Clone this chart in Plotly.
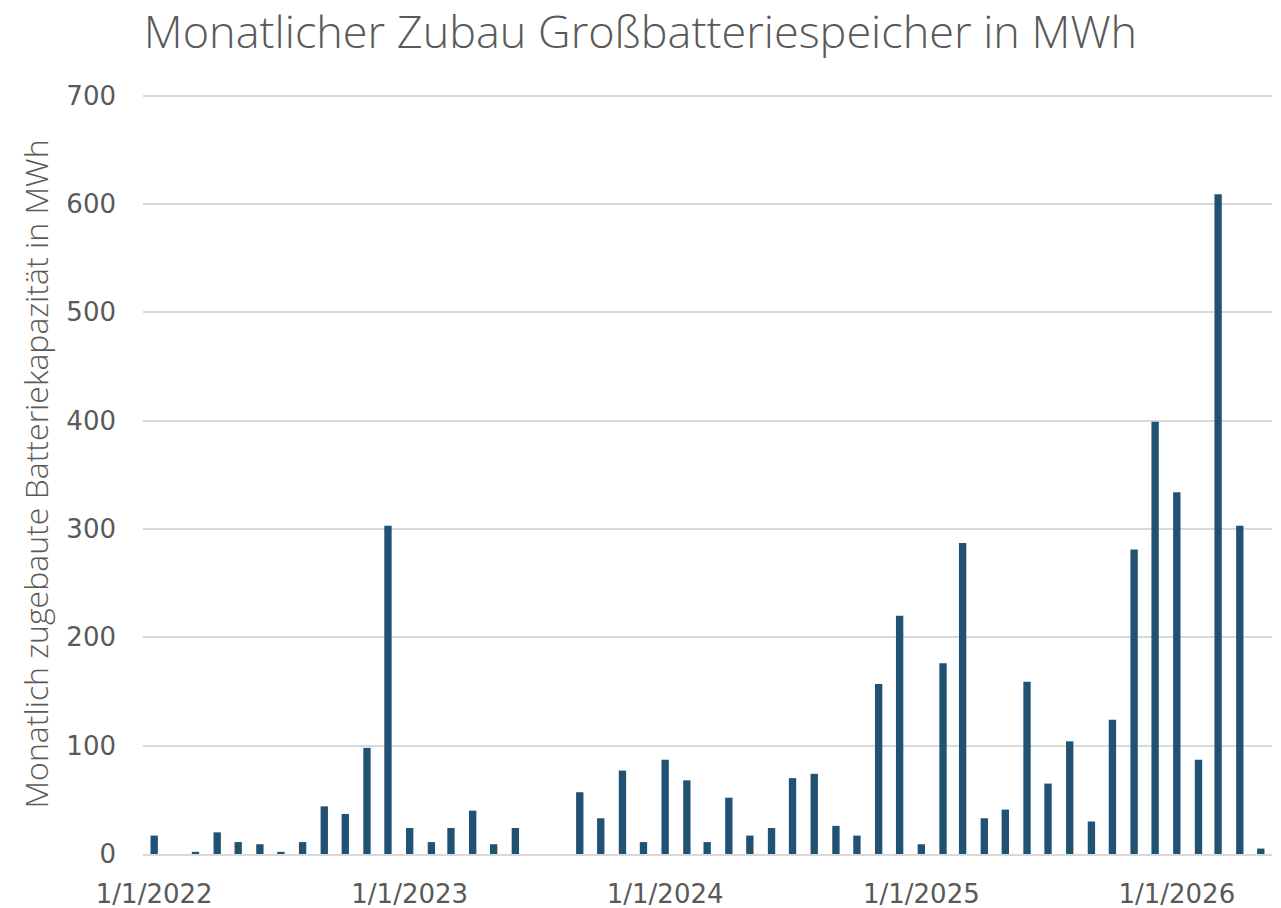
import plotly.graph_objects as go

months = [
    "2022-01-01", "2022-02-01", "2022-03-01", "2022-04-01", "2022-05-01", "2022-06-01",
    "2022-07-01", "2022-08-01", "2022-09-01", "2022-10-01", "2022-11-01", "2022-12-01",
    "2023-01-01", "2023-02-01", "2023-03-01", "2023-04-01", "2023-05-01", "2023-06-01",
    "2023-07-01", "2023-08-01", "2023-09-01", "2023-10-01", "2023-11-01", "2023-12-01",
    "2024-01-01", "2024-02-01", "2024-03-01", "2024-04-01", "2024-05-01", "2024-06-01",
    "2024-07-01", "2024-08-01", "2024-09-01", "2024-10-01", "2024-11-01", "2024-12-01",
    "2025-01-01", "2025-02-01", "2025-03-01", "2025-04-01", "2025-05-01", "2025-06-01",
    "2025-07-01", "2025-08-01", "2025-09-01", "2025-10-01", "2025-11-01", "2025-12-01",
    "2026-01-01", "2026-02-01", "2026-03-01", "2026-04-01", "2026-05-01",
]
zubau_mwh = [
    17, 0, 2, 20, 11, 9, 2, 11, 44, 37, 98, 303,
    24, 11, 24, 40, 9, 24, 0, 0, 57, 33, 77, 11,
    87, 68, 11, 52, 17, 24, 70, 74, 26, 17, 157, 220,
    9, 176, 287, 33, 41, 159, 65, 104, 30, 124, 281, 399,
    334, 87, 609, 303, 5,
]
tick_dates = ["2022-01-01", "2023-01-01", "2024-01-01", "2025-01-01", "2026-01-01"]
tick_labels = ["1/1/2022", "1/1/2023", "1/1/2024", "1/1/2025", "1/1/2026"]

title_text = "Monatlicher Zubau Großbatteriespeicher in MWh"
y_title = "Monatlich zugebaute Batteriekapazität in MWh"

DAY_MS = 86400000
TITLE_FONT = "Open Sans"
TICK_FONT = "DejaVu Sans"
GREY = "#595959"

fig = go.Figure(
    go.Bar(
        x=months,
        y=zubau_mwh,
        width=10.5 * DAY_MS,
        marker=dict(color="#215273", line=dict(width=0)),
    )
)

fig.update_layout(
    width=1281,
    height=908,
    paper_bgcolor="white",
    plot_bgcolor="white",
    margin=dict(l=143, r=9, t=94, b=54, autoexpand=False),
    showlegend=False,
    title=dict(
        text=title_text,
        x=0.5,
        xanchor="center",
        y=0.964,
        yanchor="middle",
        font=dict(family=TITLE_FONT, size=45, color=GREY, weight=300),
    ),
    font=dict(family=TITLE_FONT, color=GREY),
)

fig.update_xaxes(
    type="date",
    range=["2021-12-16", "2026-05-17"],
    tickvals=tick_dates,
    ticktext=tick_labels,
    tickfont=dict(family=TICK_FONT, size=26, color=GREY),
    showgrid=False,
    showline=True,
    linecolor="#d9d9d9",
    linewidth=2,
    ticks="",
    ticklabelstandoff=16,
    zeroline=False,
    automargin=False,
)

fig.update_yaxes(
    range=[0, 701.5],
    tickvals=[0, 100, 200, 300, 400, 500, 600, 700],
    tickfont=dict(family=TICK_FONT, size=26, color=GREY),
    showgrid=True,
    gridcolor="#d9d9d9",
    gridwidth=1.5,
    zeroline=False,
    showline=False,
    ticks="",
    ticklabelstandoff=26,
    automargin=False,
    title=dict(
        text=y_title,
        font=dict(family=TITLE_FONT, size=32, color=GREY, weight=300),
        standoff=8,
    ),
)

fig.write_html(
    "out.html",
    config={"displayModeBar": False},
    post_script="document.body.style.margin='0';document.body.style.padding='0';",
)
